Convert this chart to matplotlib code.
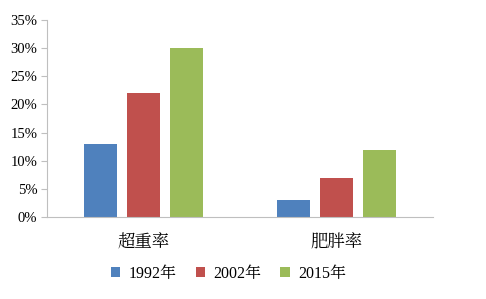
import matplotlib.pyplot as plt
import numpy as np

categories = ['超重率', '肥胖率']
series_names = ['1992年', '2002年', '2015年']
values_1992 = [13, 3]
values_2002 = [22, 7]
values_2015 = [30, 12]
colors = ['#4F81BD', '#C0504D', '#9BBB59']
yticks = [0, 5, 10, 15, 20, 25, 30, 35]

plt.rcParams['font.family'] = ['Liberation Serif', 'Noto Serif CJK SC', 'Noto Sans CJK SC']
plt.rcParams['font.size'] = 10.5

fig = plt.figure(figsize=(4.86, 2.99), dpi=100)
ax = fig.add_axes([0.0967, 0.274, 0.7943, 0.659])

x = np.arange(len(categories))
width = 0.171
step = 0.223
for i, (name, vals) in enumerate(zip(series_names, [values_1992, values_2002, values_2015])):
    ax.bar(x + (i - 1) * step, vals, width, color=colors[i], label=name)

ax.set_xlim(-0.5, 1.5)
ax.set_ylim(0, 35)
ax.set_yticks(yticks)
ax.set_yticklabels([f'{t}%' for t in yticks])
ax.set_xticks(x)
ax.set_xticklabels(categories, fontsize=12.5)
ax.tick_params(axis='x', length=0, pad=12)
ax.tick_params(axis='y', length=4, color='#BFBFBF', pad=3)
for s in ['top', 'right']:
    ax.spines[s].set_visible(False)
ax.spines['left'].set_color('#BFBFBF')
ax.spines['bottom'].set_color('#BFBFBF')

fig.legend(loc='center', bbox_to_anchor=(0.47, 0.085), ncol=3, frameon=False,
           handlelength=0.6, handleheight=0.6, handletextpad=0.5, columnspacing=1.2,
           fontsize=11.5)

plt.savefig('out.png', dpi=100)
plt.close()
